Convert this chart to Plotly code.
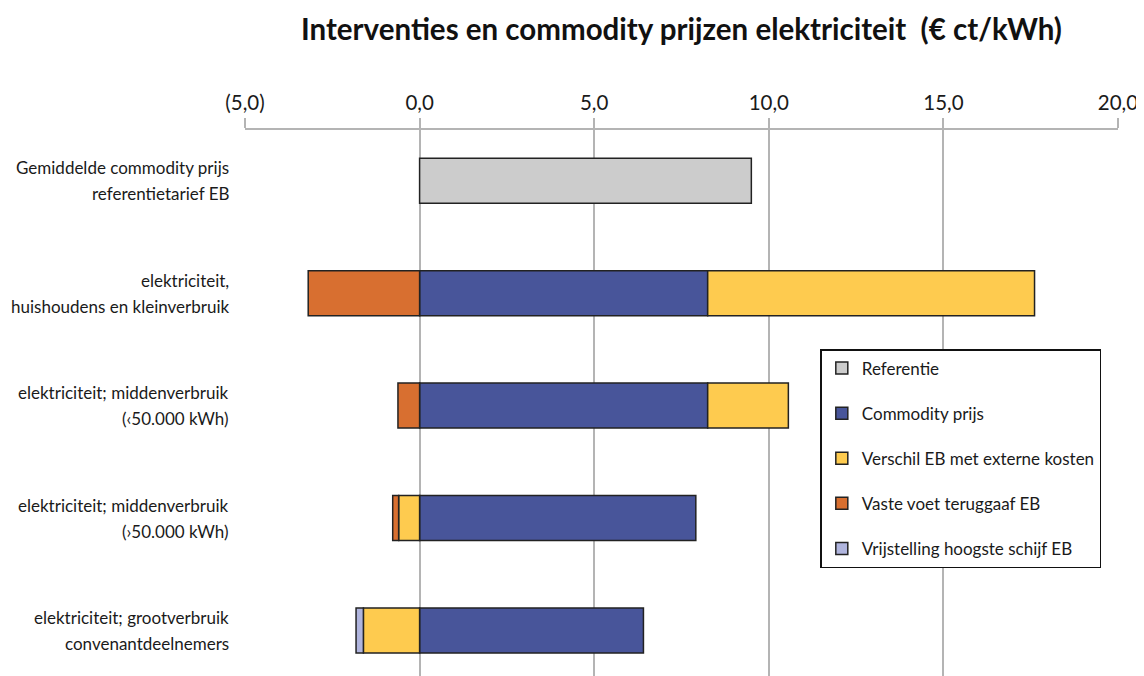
import plotly.graph_objects as go

categories = [
    "Gemiddelde commodity prijs<br>referentietarief EB",
    "elektriciteit,<br>huishoudens en kleinverbruik",
    "elektriciteit; middenverbruik<br>(‹50.000 kWh)",
    "elektriciteit; middenverbruik<br>(›50.000 kWh)",
    "elektriciteit; grootverbruik<br>convenantdeelnemers",
]
referentie = [9.50, None, None, None, None]
commodity = [None, 8.25, 8.25, 7.91, 6.41]
verschil_eb = [None, 9.36, 2.31, -0.60, -1.61]
vaste_voet = [None, -3.19, -0.62, -0.17, None]
vrijstelling = [None, None, None, None, -0.21]

tick_vals = [-5, 0, 5, 10, 15, 20]
tick_text = ["(5,0)", "0,0", "5,0", "10,0", "15,0", "20,0"]

series = [
    ("Referentie", referentie, "#cccccc"),
    ("Commodity prijs", commodity, "#48559a"),
    ("Verschil EB met externe kosten", verschil_eb, "#fecb4f"),
    ("Vaste voet teruggaaf EB", vaste_voet, "#d86f30"),
    ("Vrijstelling hoogste schijf EB", vrijstelling, "#b0b5de"),
]

FONT = "Lato"
H = 668
T = 122
plot_h = H - T
fig = go.Figure()
for i, (name, vals, col) in enumerate(series):
    fig.add_trace(go.Bar(
        y=list(range(len(categories))), x=vals, name=name, orientation="h",
        marker=dict(color=col, line=dict(color="#222222", width=1.5)),
        width=0.4, legendgroup=f"g{i}",
    ))

for i, cat in enumerate(categories):
    lines = cat.split("<br>")
    shifts = [13, -13] if len(lines) == 2 else [0]
    for ln, sh in zip(lines, shifts):
        fig.add_annotation(
            x=-0.016, xref="paper", y=i, yref="y", text=ln, showarrow=False,
            xanchor="right", yanchor="middle", yshift=sh,
            font=dict(family=FONT, size=17, color="#1a1a1a"),
        )

fig.update_layout(
    width=1136, height=H,
    margin=dict(l=237, r=26, t=T, b=0),
    paper_bgcolor="white", plot_bgcolor="white",
    barmode="relative",
    title=dict(text="<b>Interventies en commodity prijzen elektriciteit  (€ ct/kWh)</b>",
               x=0.5, xref="paper", xanchor="center", y=1 - 22 / H, yanchor="middle",
               font=dict(family=FONT, size=29.5, color="#111111")),
    xaxis=dict(side="top", range=[-5, 20], tickvals=tick_vals, ticktext=tick_text,
               showgrid=True, gridcolor="#b4b4b4", gridwidth=1.5,
               showline=True, linecolor="#b4b4b4", linewidth=1.5,
               ticks="outside", ticklen=10, tickcolor="#b4b4b4", tickwidth=1.5,
               zeroline=False,
               tickfont=dict(family=FONT, size=20.5, color="#1a1a1a")),
    yaxis=dict(range=[-0.452 + plot_h / 112.4, -0.452], showticklabels=False, showgrid=False,
               zeroline=False, showline=False),
    legend=dict(x=0.659, y=1 - (349 - 130) / plot_h, xanchor="left", yanchor="top",
                bordercolor="#111111", borderwidth=1.5, bgcolor="white",
                tracegroupgap=20, traceorder="grouped",
                itemwidth=30,
                font=dict(family=FONT, size=17, color="#1a1a1a")),
    showlegend=True,
)

fig.write_html("out.html")
